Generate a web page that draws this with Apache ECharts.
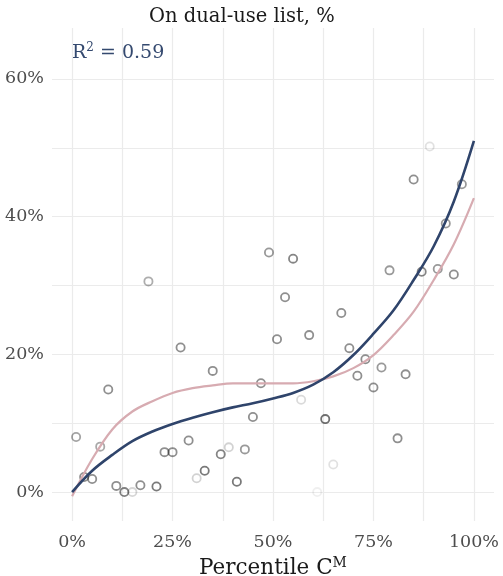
<!DOCTYPE html>
<html>
<head>
<meta charset="utf-8">
<style>
  html, body { margin: 0; padding: 0; background: #fff; }
  #chart { width: 503px; height: 576px; }
</style>
<script src="https://cdn.jsdelivr.net/npm/echarts@6/dist/echarts.min.js"></script>
</head>
<body>
<div id="chart"></div>
<script>
// Percentile of C^M (x) and share on the dual-use list (y), one point per bin
const percentile = [1, 3, 5, 7, 9, 11, 13, 15, 17, 19, 21, 23, 25, 27, 29, 31, 33, 35, 37, 39,
  41, 43, 45, 47, 49, 51, 53, 55, 57, 59, 61, 63, 65, 67, 69, 71, 73, 75, 77, 79,
  81, 83, 85, 87, 89, 91, 93, 95, 97];
const dualUseShare = [8.0, 2.2, 1.9, 6.6, 14.9, 0.9, 0.0, 0.0, 1.0, 30.6, 0.8, 5.8, 5.8, 21.0, 7.5, 2.0, 3.1, 17.6, 5.5, 6.5,
  1.5, 6.2, 10.9, 15.8, 34.8, 22.2, 28.3, 33.9, 13.4, 22.8, 0.0, 10.6, 4.0, 26.0, 20.9, 16.9, 19.3, 15.2, 18.1, 32.2,
  7.8, 17.1, 45.4, 32.0, 50.2, 32.4, 39.0, 31.6, 44.7];
// point weight, shown as stroke opacity
const pointAlpha = [0.45, 0.55, 0.55, 0.42, 0.55, 0.55, 0.62, 0.2, 0.55, 0.4, 0.65, 0.55, 0.55, 0.55, 0.55, 0.22, 0.66, 0.55, 0.6, 0.22,
  0.66, 0.5, 0.55, 0.55, 0.5, 0.55, 0.55, 0.6, 0.18, 0.55, 0.08, 0.7, 0.15, 0.55, 0.55, 0.55, 0.55, 0.55, 0.5, 0.5,
  0.55, 0.55, 0.55, 0.6, 0.15, 0.5, 0.5, 0.55, 0.5];

// fitted curves, sampled every 5 percentile points
const curveX = [0, 5, 10, 15, 20, 25, 30, 35, 40, 45, 50, 55, 60, 65, 70, 75, 80, 85, 90, 95, 100];
const cubicFit = [0.0, 3.1, 5.4, 7.4, 8.8, 9.9, 10.8, 11.6, 12.3, 12.9, 13.6, 14.4, 15.6, 17.4, 19.9, 23.0, 26.4, 30.8, 35.7, 42.2, 51.0];
const smoothFit = [-0.6, 4.8, 9.1, 11.7, 13.2, 14.4, 15.1, 15.5, 15.8, 15.8, 15.8, 15.8, 16.1, 16.8, 18.0, 19.9, 22.8, 26.2, 30.8, 36.0, 42.7];

const xLabels = [0, 25, 50, 75, 100];
const xGrid = [0, 12.5, 25, 37.5, 50, 62.5, 75, 87.5, 100];
const yLabels = [0, 20, 40, 60];
const yGrid = [0, 10, 20, 30, 40, 50, 60];
const rSquared = '0.59';

const serif = '"DejaVu Serif", "Liberation Serif", serif';
const gridLine = { show: true, lineStyle: { color: '#ebebeb', width: 1.2 } };

const chart = echarts.init(document.getElementById('chart'), null, { renderer: 'canvas' });

chart.setOption({
  animation: false,
  backgroundColor: '#ffffff',
  title: [
    {
      text: 'On dual-use list, %',
      left: 144, top: 2,
      textStyle: { fontFamily: serif, fontWeight: 'normal', fontSize: 19.5, color: '#1a1a1a' }
    },
    {
      text: 'R{sup|2} = ' + rSquared,
      left: 67, top: 37,
      textStyle: {
        fontFamily: serif, fontWeight: 'normal', fontSize: 19, color: '#34496f',
        rich: {
          sup: { fontFamily: serif, fontSize: 12, color: '#34496f', verticalAlign: 'top', padding: [0, 0, 10, 0] }
        }
      }
    }
  ],
  grid: { left: 52, right: 9, top: 28, bottom: 55, containLabel: false, outerBoundsMode: 'none' },
  xAxis: {
    type: 'value',
    min: -5, max: 105,
    axisLine: { show: false },
    axisTick: { show: false, customValues: xGrid },
    splitLine: gridLine,
    axisLabel: {
      customValues: xLabels,
      formatter: v => v + '%',
      fontFamily: serif, fontSize: 17.5, color: '#4d4d4d', margin: 12
    },
    name: 'Percentile C{sup|M}',
    nameLocation: 'middle',
    nameGap: 28,
    nameTextStyle: {
      fontFamily: serif, fontSize: 21.5, color: '#1a1a1a',
      rich: {
        sup: { fontFamily: serif, fontSize: 14, color: '#1a1a1a', verticalAlign: 'top', padding: [0, 0, 12, 0] }
      }
    }
  },
  yAxis: {
    type: 'value',
    min: -4.2, max: 67.4,
    axisLine: { show: false },
    axisTick: { show: false, customValues: yGrid },
    splitLine: gridLine,
    axisLabel: {
      customValues: yLabels,
      formatter: v => v + '%',
      fontFamily: serif, fontSize: 17.5, color: '#4d4d4d', margin: 8
    }
  },
  series: [
    {
      type: 'scatter',
      symbol: 'circle',
      symbolSize: 8.2,
      z: 2,
      data: percentile.map((x, i) => ({
        value: [x, dualUseShare[i]],
        itemStyle: {
          color: 'rgba(0,0,0,0)',
          borderColor: 'rgba(0,0,0,' + pointAlpha[i] + ')',
          borderWidth: 1.8
        }
      }))
    },
    {
      type: 'line',
      smooth: 0.35,
      showSymbol: false,
      z: 3,
      lineStyle: { color: '#d7abb1', width: 2.2 },
      data: curveX.map((x, i) => [x, smoothFit[i]])
    },
    {
      type: 'line',
      smooth: 0.35,
      showSymbol: false,
      z: 4,
      lineStyle: { color: '#2f446b', width: 2.6 },
      data: curveX.map((x, i) => [x, cubicFit[i]])
    }
  ]
});
</script>
</body>
</html>
